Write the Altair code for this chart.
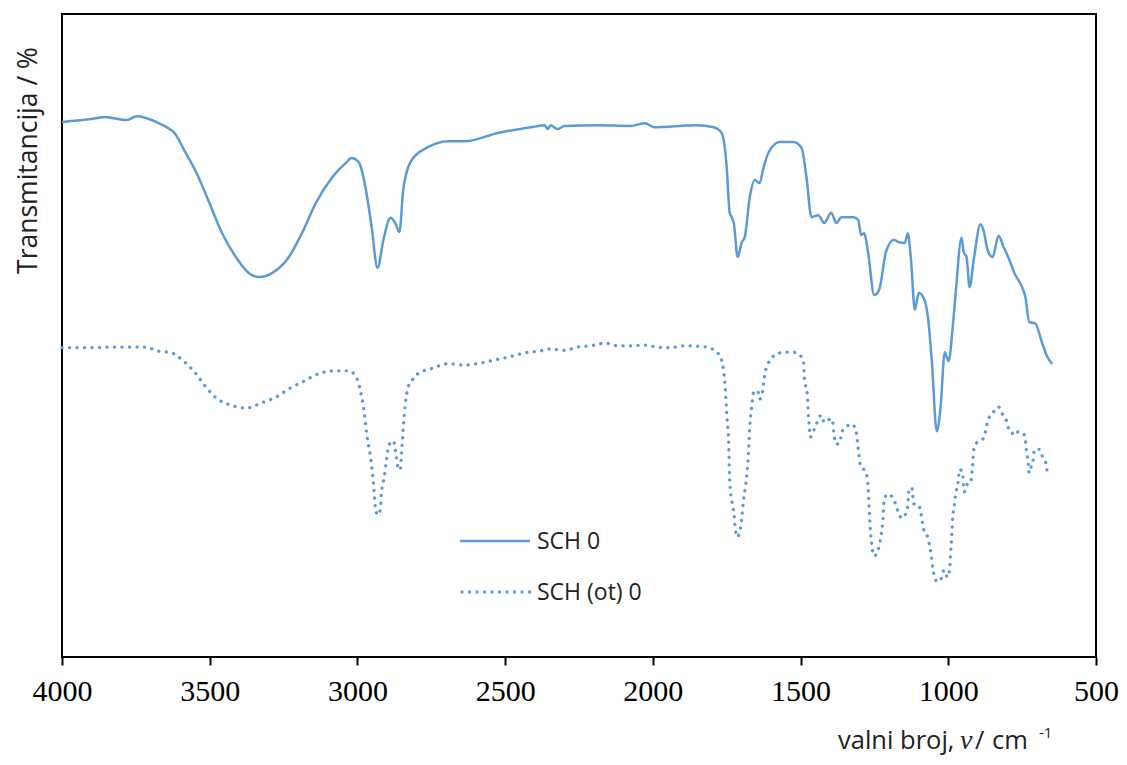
import altair as alt
import pandas as pd

# SCH 0 (solid) : wavenumber (cm-1) and transmittance (arbitrary %)
solid_wn = [4000, 3896, 3855, 3781, 3747, 3680, 3646, 3619, 3586, 3545, 3501, 3458, 3410, 3367,
            3333, 3289, 3232, 3188, 3141, 3087, 3040, 3020, 2996, 2973, 2952, 2932, 2912, 2888,
            2872, 2858, 2845, 2828, 2794, 2784, 2693, 2636, 2525, 2413, 2366, 2356, 2346, 2322,
            2299, 2188, 2077, 2026, 1996, 1851, 1794, 1767, 1750, 1740, 1733, 1726, 1713, 1699,
            1689, 1672, 1655, 1639, 1625, 1608, 1571, 1524, 1497, 1480, 1463, 1440, 1420, 1396,
            1379, 1362, 1322, 1305, 1295, 1285, 1271, 1251, 1234, 1211, 1184, 1167, 1147, 1137,
            1127, 1113, 1100, 1083, 1069, 1056, 1039, 1026, 1012, 999, 985, 975, 955, 948, 938,
            928, 914, 891, 881, 867, 850, 830, 813, 790, 776, 749, 739, 726, 706, 682, 665, 648]
solid_t = [83.2, 83.7, 84.0, 83.5, 84.1, 83.2, 82.4, 81.5, 78.8, 75.3, 70.6, 65.9, 62.1, 59.7,
           59.1, 59.7, 62.2, 65.9, 70.6, 74.5, 76.8, 77.6, 77.0, 73.1, 66.9, 60.5, 64.9, 68.3,
           67.5, 66.1, 72.6, 76.2, 78.4, 78.7, 80.2, 80.2, 81.5, 82.4, 82.7, 82.1, 82.7, 82.1,
           82.6, 82.7, 82.6, 83.0, 82.4, 82.7, 82.4, 81.5, 76.2, 69.1, 68.4, 67.5, 62.2, 64.5,
           65.3, 71.5, 74.2, 73.7, 76.2, 78.5, 80.1, 80.1, 79.2, 74.6, 68.4, 68.7, 67.5, 69.1,
           67.5, 68.4, 68.4, 68.0, 65.6, 65.9, 62.8, 56.3, 57.1, 63.0, 64.9, 64.5, 64.4, 65.9,
           62.2, 54.0, 56.6, 55.8, 52.9, 46.2, 35.1, 38.9, 47.4, 46.0, 51.3, 56.6, 65.2, 63.0, 62.2,
           57.5, 61.7, 67.3, 66.4, 63.3, 62.2, 65.5, 63.8, 61.4, 59.7, 57.4, 56.0, 52.1, 51.9, 48.8, 46.7, 45.6]

# SCH (ot) 0 (dotted)
dot_wn = [4000, 3896, 3828, 3717, 3677, 3629, 3586, 3549, 3515, 3478, 3431, 3377, 3326, 3276,
          3232, 3181, 3134, 3084, 3030, 3006, 2989, 2979, 2969, 2956, 2946, 2939, 2932, 2922,
          2919, 2909, 2902, 2892, 2878, 2872, 2868, 2865, 2855, 2851, 2845, 2838, 2828, 2814,
          2797, 2747, 2693, 2636, 2585, 2535, 2484, 2434, 2380, 2349, 2299, 2255, 2211, 2161,
          2120, 2077, 2026, 1986, 1942, 1895, 1817, 1790, 1773, 1757, 1750, 1743, 1740, 1726,
          1716, 1706, 1699, 1693, 1682, 1676, 1672, 1666, 1659, 1645, 1639, 1628, 1625, 1615,
          1581, 1554, 1527, 1504, 1490, 1487, 1477, 1474, 1470, 1467, 1453, 1430, 1420, 1406,
          1393, 1386, 1379, 1366, 1362, 1346, 1325, 1312, 1305, 1298, 1278, 1271, 1268, 1265,
          1258, 1251, 1238, 1228, 1221, 1218, 1207, 1191, 1180, 1170, 1157, 1143, 1137, 1133,
          1123, 1120, 1116, 1100, 1093, 1083, 1069, 1059, 1052, 1046, 1036, 1022, 1015, 1002,
          995, 992, 988, 985, 978, 975, 968, 965, 962, 951, 948, 945, 935, 924, 921, 918, 916,
          914, 904, 887, 877, 871, 864, 847, 830, 817, 803, 796, 786, 780, 763, 746, 739, 736,
          732, 729, 726, 719, 712, 709, 692, 682, 675, 668, 665]
dot_t = [48.1, 48.1, 48.2, 48.2, 47.6, 47.3, 45.9, 44.2, 42.1, 40.3, 39.2, 38.7, 39.5, 40.4,
         41.7, 42.9, 44.0, 44.5, 44.5, 43.7, 41.2, 38.7, 34.8, 31.1, 27.2, 23.3, 22.1, 23.0,
         25.5, 28.0, 30.6, 33.1, 33.6, 32.3, 31.1, 29.9, 29.1, 31.6, 35.5, 39.3, 42.0, 43.1,
         44.0, 44.9, 45.6, 45.4, 45.7, 46.2, 46.7, 47.3, 47.6, 47.9, 47.7, 48.2, 48.4, 48.8,
         48.4, 48.4, 48.5, 48.2, 48.1, 48.4, 48.2, 47.6, 46.8, 43.1, 37.9, 32.7, 27.5, 22.4,
         18.7, 19.3, 21.8, 24.4, 28.3, 32.2, 35.8, 38.6, 41.1, 41.4, 40.1, 41.4, 42.6, 45.1,
         47.1, 47.4, 47.4, 47.0, 45.9, 43.4, 40.7, 38.1, 35.6, 34.2, 35.5, 37.6, 36.5, 36.9,
         37.0, 34.2, 33.1, 33.4, 34.8, 35.8, 36.2, 35.0, 32.5, 29.9, 28.6, 26.0, 23.3, 20.8,
         17.0, 15.7, 16.6, 18.8, 21.5, 24.1, 25.3, 25.0, 24.0, 22.6, 21.6, 22.4, 23.6, 26.1,
         26.3, 25.0, 23.8, 23.6, 22.4, 19.8, 18.5, 16.2, 13.7, 12.3, 11.7, 12.4, 13.5, 12.4,
         13.8, 16.3, 19.0, 21.6, 24.1, 25.5, 26.7, 28.0, 29.2, 28.6, 26.0, 25.7, 26.9, 27.1,
         28.3, 29.5, 30.9, 32.2, 33.3, 33.7, 34.5, 35.8, 37.0, 38.1, 38.9, 37.8, 36.7, 35.6,
         35.3, 34.5, 35.0, 34.8, 33.6, 32.3, 31.1, 29.9, 28.6, 29.7, 30.9, 32.2, 32.3, 31.3,
         30.6, 29.9, 28.6]

series_names = ["SCH 0", "SCH (ot) 0"]
x_ticks = [4000, 3500, 3000, 2500, 2000, 1500, 1000, 500]

BLUE = "#5B9BD5"
SANS = "Open Sans"
SERIF = "Liberation Serif, Times New Roman, serif"

solid_df = pd.DataFrame({"wn": solid_wn, "t": solid_t, "i": range(len(solid_wn))})
dot_df = pd.DataFrame({"wn": dot_wn, "t": dot_t, "i": range(len(dot_wn))})

xs = alt.Scale(domain=[4000, 500], nice=False, zero=False)
ys = alt.Scale(domain=[0, 100], nice=False, zero=False)

xax = alt.Axis(values=x_ticks, format="d", labelFont=SERIF, labelFontSize=30, labelColor="black",
               tickColor="black", tickWidth=2, tickSize=8, labelPadding=11, domain=False,
               grid=False, title=None, labelFlush=False, labelOverlap=False)
yax = alt.Axis(labels=False, ticks=False, domain=False, grid=False,
               title="Transmitancija / %", titleFont=SANS, titleFontSize=26.5,
               titleFontWeight="normal", titleColor="#222222", titleX=-26, titleY=146,
               titleAngle=270, titleAlign="center", titleBaseline="alphabetic")

solid = alt.Chart(solid_df).mark_line(color=BLUE, strokeWidth=2.5, strokeJoin="round",
                                      interpolate="monotone").encode(
    x=alt.X("wn:Q", scale=xs, axis=xax),
    y=alt.Y("t:Q", scale=ys, axis=yax),
    order="i:Q",
)
dotted = alt.Chart(dot_df).mark_line(color=BLUE, strokeWidth=3.3, strokeCap="round",
                                     strokeDash=[0.1, 7.4], interpolate="monotone").encode(
    x=alt.X("wn:Q", scale=xs),
    y=alt.Y("t:Q", scale=ys),
    order="i:Q",
)

one = pd.DataFrame({"k": [0]})
leg_solid = alt.Chart(one).mark_rule(color=BLUE, strokeWidth=2.5).encode(
    x=alt.value(398), x2=alt.value(468), y=alt.value(527))
leg_dot = alt.Chart(one).mark_rule(color=BLUE, strokeWidth=3.3, strokeCap="round",
                                   strokeDash=[0.1, 7.4]).encode(
    x=alt.value(400), x2=alt.value(468), y=alt.value(578))
leg_t1 = alt.Chart(one).mark_text(align="left", baseline="middle", font=SANS, fontSize=23,
                                  color="#222222").encode(
    x=alt.value(475), y=alt.value(528), text=alt.value(series_names[0]))
leg_t2 = alt.Chart(one).mark_text(align="left", baseline="middle", font=SANS, fontSize=23,
                                  color="#222222").encode(
    x=alt.value(475), y=alt.value(579), text=alt.value(series_names[1]))

# x axis title pieces: "valni broj, ν / cm-1"
def piece(txt, x, y, font=SANS, size=25.5, style="normal"):
    return alt.Chart(one).mark_text(align="left", baseline="alphabetic", font=font,
                                    fontSize=size, fontStyle=style, color="#222222").encode(
        x=alt.value(x), y=alt.value(y), text=alt.value(txt))

xt = (piece("valni broj,", 776, 735) + piece("ν", 898, 735, SERIF, 28, "italic")
      + piece("/", 913, 735) + piece("cm", 930, 735) + piece("-1", 977, 724, SANS, 15))

chart = alt.layer(solid, dotted, leg_solid, leg_dot, leg_t1, leg_t2, xt).properties(
    width=1034, height=643,
    autosize=alt.AutoSizeParams(type="none"),
    padding={"left": 54, "top": 6, "right": 23, "bottom": 100},
).configure_view(stroke="black", strokeWidth=2)

chart.save("out.html", embed_options={"renderer": "svg", "actions": False})
